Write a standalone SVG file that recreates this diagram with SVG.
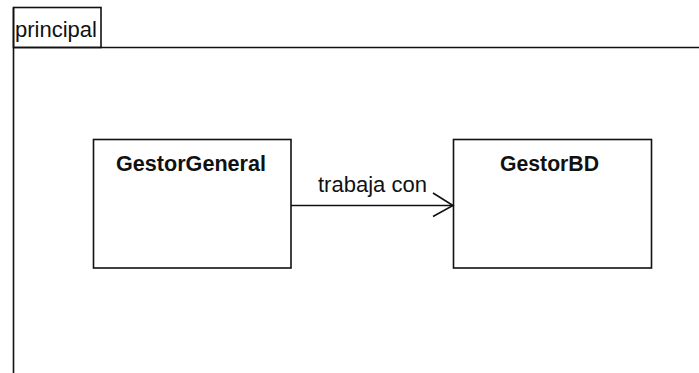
<svg xmlns="http://www.w3.org/2000/svg" width="699" height="373" viewBox="0 0 699 373">
<style>
.ln{fill:none;stroke:#111;stroke-width:1.6}
.box{fill:#fff;stroke:#111;stroke-width:1.6}
.t{font-family:"Liberation Sans",Arial,sans-serif;font-size:22px;fill:#111}
.b{font-weight:bold}
</style>
<rect width="699" height="373" fill="#fff"/>
<g id="frame">
<rect class="box" x="13.5" y="7.5" width="87.5" height="40"/>
<text class="t" x="15" y="37" textLength="82" lengthAdjust="spacingAndGlyphs">principal</text>
<path class="ln" d="M13.5,47.5 H699 M13.5,7.5 V373"/>
</g>
<g id="GestorGeneral">
<rect class="box" x="93.5" y="139.5" width="197.5" height="128.5"/>
<text class="t b" x="116" y="171" textLength="150" lengthAdjust="spacingAndGlyphs">GestorGeneral</text>
</g>
<g id="GestorBD">
<rect class="box" x="453.5" y="139.5" width="198" height="128.5"/>
<text class="t b" x="500" y="171" textLength="99" lengthAdjust="spacingAndGlyphs">GestorBD</text>
</g>
<g id="connectors">
<path class="ln" d="M291,205.5 H453"/>
<path class="ln" d="M433,193 L453,205.5 L433,216.5"/>
<text class="t" x="318" y="192" textLength="109" lengthAdjust="spacingAndGlyphs">trabaja con</text>
</g>
</svg>
